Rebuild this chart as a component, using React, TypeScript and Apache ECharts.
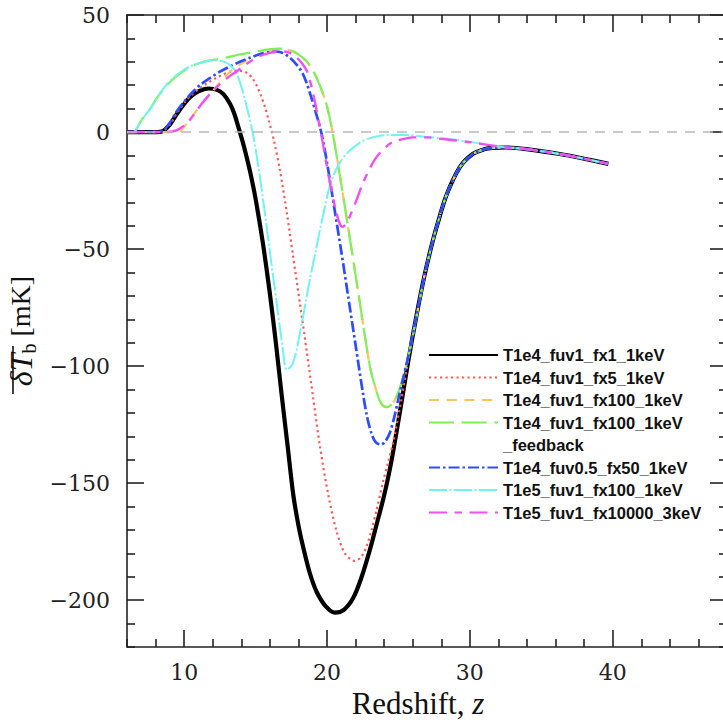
import React, { useEffect, useRef } from 'react';
import * as echarts from 'echarts';

const xMajorTicks = [10, 20, 30, 40];
const xMinorTicks = [6, 8, 12, 14, 16, 18, 22, 24, 26, 28, 32, 34, 36, 38, 42, 44, 46];
const yMajorTicks = [-200, -150, -100, -50, 0, 50];
const yMinorTicks = [-220, -210, -190, -180, -170, -160, -140, -130, -120, -110, -90, -80, -70, -60, -40, -30, -20, -10, 10, 20, 30, 40];

const seriesNames = [
  'T1e4_fuv1_fx1_1keV',
  'T1e4_fuv1_fx5_1keV',
  'T1e4_fuv1_fx100_1keV',
  'T1e4_fuv1_fx100_1keV',
  '_feedback',
  'T1e4_fuv0.5_fx50_1keV',
  'T1e5_fuv1_fx100_1keV',
  'T1e5_fuv1_fx10000_3keV',
];

const fx1 = [
  [6, 0], [8, 0], [8.5, 0.4], [9, 3.2], [9.5, 7.8], [10, 12], [10.4, 14.8], [11, 17.4], [11.7, 18.6], [12.3, 18],
  [12.75, 16.2], [13.2, 12.2], [13.5, 8], [13.85, 1], [14.2, -6.5], [14.6, -16.5], [15, -28.5], [15.5, -47],
  [16, -69], [16.4, -89], [16.83, -112.5], [17.25, -134.5], [17.64, -155], [18, -168], [18.34, -177.5],
  [18.8, -188.5], [19.28, -196.5], [19.9, -202.5], [20.56, -205.3], [21.2, -204], [21.84, -199], [22.4, -190.5],
  [23, -178.5], [23.5, -167], [23.93, -157], [24.3, -147], [24.63, -136.5], [25.2, -116], [25.7, -97.5],
  [26.26, -78.5], [26.8, -62], [27.3, -49], [27.7, -40], [28.36, -27], [29.3, -15], [30.2, -9.4], [31, -7.4],
  [31.6, -6.8], [32.55, -6.6], [33.95, -7.3], [36.3, -9.4], [38, -11.4], [39.7, -13.6],
];

const fx5 = [
  [6, 0], [8, 0], [8.5, 0.4], [9, 3.2], [9.5, 8.1], [10, 12.4], [10.4, 15.2], [11, 18.3], [11.6, 20.8], [12.2, 23],
  [12.75, 24.7], [13.2, 25.7], [13.7, 26.2], [14.1, 26], [14.4, 25.2], [14.8, 22.8], [15.1, 19.6], [15.4, 15.2],
  [15.67, 10.5], [15.9, 5.5], [16.1, 0.8], [16.3, -4], [16.7, -16], [17.2, -35], [17.6, -52], [18.1, -73],
  [18.6, -94.5], [19.04, -114], [19.5, -134], [20.09, -155], [20.67, -170.5], [21.25, -180], [21.95, -183.2],
  [22.4, -181.5], [22.77, -177], [23.1, -170.5], [23.47, -161.5], [23.9, -150], [24.3, -140.5], [24.63, -132.5],
  [25.2, -114.5], [25.7, -97], [26.26, -78.5], [26.8, -62], [27.3, -49], [27.7, -40], [28.36, -27], [29.3, -15],
  [30.2, -9.4], [31, -7.4], [31.6, -6.8], [32.55, -6.6], [33.95, -7.3], [36.3, -9.4], [38, -11.4], [39.7, -13.6],
];

const fx100 = [
  [6, 0], [9.6, 0], [9.9, 1.5], [10.2, 3.8], [10.65, 7.4], [11.1, 11], [11.6, 14.5], [12.2, 19], [12.75, 23],
  [13.3, 26.3], [13.9, 28.8], [14.5, 31], [15.1, 33], [15.8, 34.5], [16.5, 35.3], [16.9, 35.5], [17.6, 34.5],
  [18.1, 32.8], [18.6, 30], [19, 26.5], [19.3, 22.8], [19.65, 17.5], [20, 11], [20.42, -1], [21.2, -30], [22.1, -65],
  [23, -100], [23.5, -111.5], [23.8, -116], [24.17, -117.5], [24.5, -116.5], [24.87, -113], [25.3, -105.5],
  [25.8, -93], [26.26, -79], [26.8, -62], [27.3, -49], [27.7, -40], [28.36, -27], [29.3, -15], [30.2, -9.4],
  [31, -7.4], [31.6, -6.8], [32.55, -6.6], [33.95, -7.3], [36.3, -9.4], [38, -11.4], [39.7, -13.6],
];

const fx100Feedback = [
  [6, 0], [6.45, 0], [7, 5], [7.63, 10], [8.2, 15.5], [8.8, 20], [9.4, 23.5], [9.96, 26], [10.5, 28], [11.1, 29.5],
  [11.7, 30.5], [12.3, 31.1], [13, 31.9], [13.8, 33], [14.6, 33.9], [15.3, 34.7], [15.8, 35.2], [16.7, 35.6],
  [17.6, 34.5], [18.1, 32.8], [18.6, 30], [19, 26.5], [19.3, 22.8], [19.65, 17.5], [20, 11], [20.42, -1], [21.2, -30],
  [22.1, -65], [23, -100], [23.5, -111.5], [23.8, -116], [24.17, -117.5], [24.5, -116.5], [24.87, -113],
  [25.3, -105.5], [25.8, -93], [26.26, -79], [26.8, -62], [27.3, -49], [27.7, -40], [28.36, -27], [29.3, -15],
  [30.2, -9.4], [31, -7.4], [31.6, -6.8], [32.55, -6.6], [33.95, -7.3], [36.3, -9.4], [38, -11.4], [39.7, -13.6],
];

const fuv05 = [
  [6, 0], [8, 0], [8.5, 0.6], [9, 4], [9.5, 9], [10, 13], [10.65, 17.4], [11.2, 20.5], [11.8, 23], [12.5, 25.8],
  [13.2, 28], [13.9, 30], [14.6, 31.7], [15.3, 33.2], [16, 34.2], [16.5, 34.3], [16.9, 33.8], [17.4, 31.8],
  [17.9, 28.6], [18.3, 25], [18.6, 20.5], [18.9, 14.8], [19.16, 9.5], [19.4, 4.5], [19.63, -1], [20, -13],
  [20.5, -32], [21, -51], [21.5, -71], [22, -91], [22.5, -111], [22.8, -121.5], [23.1, -128.5], [23.4, -132.5],
  [23.8, -133.5], [24.1, -132], [24.4, -128.5], [24.7, -122], [24.98, -114.5], [25.3, -106], [25.7, -95.5],
  [26.26, -78.5], [26.8, -62], [27.3, -49], [27.7, -40], [28.36, -27], [29.3, -15], [30.2, -9.4], [31, -7.4],
  [31.6, -6.8], [32.55, -6.6], [33.95, -7.3], [36.3, -9.4], [38, -11.4], [39.7, -13.6],
];

const t1e5fx100 = [
  [6, 0], [6.45, 0], [7, 5], [7.63, 10], [8.2, 15.5], [8.8, 20.5], [9.4, 24], [9.96, 26.5], [10.5, 28.3], [11.1, 29.5],
  [11.7, 30.3], [12.3, 30.6], [12.7, 30.2], [13, 29.5], [13.4, 27.5], [13.7, 24.5], [14, 19.5], [14.27, 13.5],
  [14.55, 6.5], [14.85, -2], [15.2, -15], [15.55, -30], [16, -51], [16.5, -74], [16.85, -90], [17.18, -101.5],
  [17.5, -100], [17.8, -95], [18.1, -86], [18.5, -73], [18.8, -63], [19.2, -51], [19.5, -42], [20.2, -23], [20.8, -14],
  [21.4, -9], [22.3, -4.5], [23, -2.6], [24.2, -1.3], [25.5, -1.3], [27, -2.1], [28.5, -3], [30, -4.2], [31.6, -5.8],
  [32.55, -6.6], [33.95, -7.3], [36.3, -9.4], [38, -11.4], [39.7, -13.6],
];

const t1e5fx10000 = [
  [6, 0], [8.8, 0], [9.5, 0.8], [10.2, 3.8], [10.8, 8.5], [11.35, 13], [12, 17.5], [12.5, 20.5], [13.1, 23.5],
  [13.7, 26], [14.3, 28.8], [14.85, 31], [15.4, 32.7], [16, 33.8], [16.5, 34.3], [16.9, 34.5], [17.4, 33.8],
  [17.9, 31.7], [18.3, 29], [18.6, 26], [18.85, 21], [19.04, 16], [19.25, 10], [19.4, 5], [19.6, -1], [19.9, -11.5],
  [20.2, -21.5], [20.6, -33], [20.9, -39.3], [21.1, -40.5], [21.4, -38.5], [21.7, -34.5], [22.07, -29], [22.5, -22],
  [23, -15.5], [23.5, -10.4], [24.2, -6], [24.6, -4.3], [25.3, -3], [26, -2.3], [27, -2.3], [28.1, -3], [30, -4.3],
  [31.6, -5.8], [32.55, -6.6], [33.95, -7.3], [36.3, -9.4], [38, -11.4], [39.7, -13.6],
];

const X_MIN = 6;
const X_MAX = 48;
const Y_MIN = -220;
const Y_MAX = 50;

const minus = (v: number) => (v < 0 ? '\u2212' + Math.abs(v) : String(v));

export default function App() {
  const ref = useRef<HTMLDivElement>(null);

  useEffect(() => {
    if (!ref.current) return;
    const chart = echarts.init(ref.current, undefined, { renderer: 'svg' });

    const axisColor = '#222';
    const labelFont = { fontFamily: 'DejaVu Serif', fontSize: 22, color: '#222' };

    const xBase = (position: string, ticks: number[], len: number, showLine: boolean, showLabel: boolean, extra: any = {}) => ({
      type: 'value',
      min: X_MIN,
      max: X_MAX,
      position,
      gridIndex: 0,
      axisLine: { show: showLine, onZero: false, lineStyle: { color: axisColor, width: 1.6 } },
      axisTick: { show: true, inside: true, length: len, customValues: ticks, lineStyle: { color: axisColor, width: 1.6 } },
      axisLabel: showLabel
        ? { show: true, customValues: ticks, margin: 14, ...labelFont }
        : { show: false },
      splitLine: { show: false },
      ...extra,
    });

    const yBase = (position: string, ticks: number[], len: number, showLine: boolean, showLabel: boolean, extra: any = {}) => ({
      type: 'value',
      min: Y_MIN,
      max: Y_MAX,
      position,
      gridIndex: 0,
      axisLine: { show: showLine, onZero: false, lineStyle: { color: axisColor, width: 1.6 } },
      axisTick: { show: true, inside: true, length: len, customValues: ticks, lineStyle: { color: axisColor, width: 1.6 } },
      axisLabel: showLabel
        ? { show: true, customValues: ticks, margin: 17, formatter: (v: number) => minus(v), ...labelFont }
        : { show: false },
      splitLine: { show: false },
      ...extra,
    });

    const mk = (name: string, data: number[][], color: string, width: number, type: any, extra: any = {}) => ({
      name,
      type: 'line',
      data,
      symbol: 'none',
      showSymbol: false,
      smooth: 0.3,
      xAxisIndex: 0,
      yAxisIndex: 0,
      color,
      itemStyle: { color },
      lineStyle: { color, width, type, cap: 'butt', join: 'round' },
      emphasis: { disabled: true },
      ...extra,
    });

    const series: any[] = [
      mk(seriesNames[0], fx1, '#000000', 4.2, 'solid', {
        markLine: {
          silent: true,
          symbol: ['none', 'none'],
          label: { show: false },
          lineStyle: { color: '#b8b8b8', type: [10, 8], width: 1.6 },
          data: [{ yAxis: 0 }],
        },
      }),
      mk(seriesNames[1], fx5, '#ff5a5a', 2.2, [2.2, 3.3]),
      mk(seriesNames[2], fx100, '#ffc35c', 2.2, [10, 7.7]),
      mk(seriesNames[3] + ' ', fx100Feedback, '#7ef05c', 2.2, [25, 7.7]),
      {
        name: seriesNames[4],
        type: 'line',
        data: [],
        symbol: 'none',
        itemStyle: { color: 'rgba(0,0,0,0)', opacity: 0 },
        lineStyle: { color: 'rgba(0,0,0,0)', opacity: 0 },
      },
      mk(seriesNames[5], fuv05, '#2b4dff', 2.7, [11, 3, 2.5, 3]),
      mk(seriesNames[6], t1e5fx100, '#6ff3f3', 2.0, [18, 2.5, 2, 2.5]),
      mk(seriesNames[7], t1e5fx10000, '#f050f3', 2.4, [18, 7.5, 7.5, 7.5]),
    ];

    const legendData = series.map((s) =>
      s.name === '_feedback'
        ? { name: s.name, lineStyle: { opacity: 0 } }
        : { name: s.name }
    );

    chart.setOption({
      animation: false,
      backgroundColor: '#ffffff',
      grid: { left: 127, right: -4, top: 15, bottom: 75, containLabel: false, outerBoundsMode: 'none' },
      legend: {
        show: true,
        orient: 'vertical',
        left: 428,
        top: 345,
        padding: 0,
        itemGap: 2.5,
        itemWidth: 69,
        itemHeight: 14,
        selectedMode: false,
        data: legendData,
        itemStyle: { opacity: 0 },
        formatter: (n: string) => n.trim(),
        textStyle: {
          fontFamily: 'Liberation Sans',
          fontWeight: 'bold',
          fontSize: 16.5,
          lineHeight: 20,
          color: '#111',
        },
      },
      xAxis: [
        xBase('bottom', xMajorTicks, 17, true, true, {
          name: '{a|Redshift, }{i|z}',
          nameLocation: 'middle',
          nameGap: 36,
          nameTextStyle: {
            padding: [0, 18, 0, 0],
            rich: {
              a: { fontFamily: 'Liberation Serif', fontSize: 31, color: '#111', lineHeight: 32 },
              i: { fontFamily: 'Liberation Serif', fontStyle: 'italic', fontSize: 31, color: '#111', lineHeight: 32 },
            },
          },
        }),
        xBase('bottom', xMinorTicks, 8, false, false),
        xBase('top', xMajorTicks, 17, true, false),
        xBase('top', xMinorTicks, 8, false, false),
      ],
      yAxis: [
        yBase('left', yMajorTicks, 17, true, true, {
          name: '{d|\u03B4T}{s|b}{u| [mK]}',
          nameLocation: 'middle',
          nameRotate: 90,
          nameGap: 84,
          nameTextStyle: {
            rich: {
              d: { fontFamily: 'Liberation Serif', fontStyle: 'italic', fontSize: 32, color: '#111', lineHeight: 36 },
              s: { fontFamily: 'Liberation Serif', fontSize: 20, color: '#111', lineHeight: 20, verticalAlign: 'bottom' },
              u: { fontFamily: 'Liberation Serif', fontSize: 28, color: '#111', lineHeight: 36 },
            },
          },
        }),
        yBase('left', yMinorTicks, 8, false, false),
        yBase('right', yMajorTicks, 17, true, false),
        yBase('right', yMinorTicks, 8, false, false),
      ],
      graphic: [
        {
          type: 'line',
          silent: true,
          shape: { x1: 13, y1: 346, x2: 13, y2: 394 },
          style: { stroke: '#111', lineWidth: 1.6 },
        },
      ],
      series,
    });

    return () => chart.dispose();
  }, []);

  return (
    <div
      ref={ref}
      style={{ position: 'fixed', left: 0, top: 0, width: 723, height: 722, background: '#fff' }}
    />
  );
}
